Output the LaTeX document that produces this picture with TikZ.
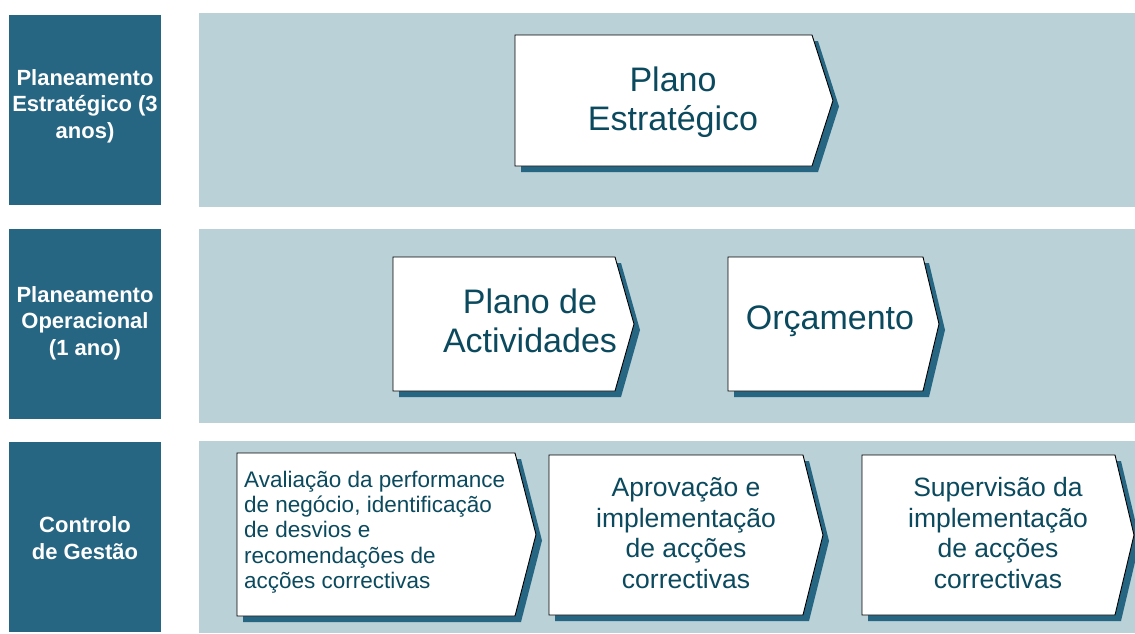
\documentclass[tikz,border=0pt]{standalone}
\usepackage{fontspec}
\setmainfont{Liberation Sans}
\definecolor{darkb}{HTML}{266683}
\definecolor{lightb}{HTML}{B9D1D7}
\definecolor{txt}{HTML}{0B4A5E}
\tikzset{
 panel/.style={fill=lightb, draw=none},
 side/.style={fill=darkb, draw=none},
 sidelabel/.style={text=white, font=\fontsize{22}{26.5}\selectfont\bfseries, align=center, inner sep=0},
 bigtext/.style={text=txt, font=\fontsize{34}{39.5}\selectfont, align=center, inner sep=0},
 midtext/.style={text=txt, font=\fontsize{26.5}{30.5}\selectfont, align=center, inner sep=0},
 smalltext/.style={text=txt, font=\fontsize{22.5}{25.3}\selectfont, align=left, inner sep=0},
 chev/.style={fill=white, draw=black, line width=0.9pt, line join=miter},
 chevshadow/.style={fill=darkb, draw=none},
}
\newcommand\chevbox[5]{%
 \fill[chevshadow, shift={(6,6)}] (#1,#2) -- (#3,#2) -- (#4,{(#2+#5)/2}) -- (#3,#5) -- (#1,#5) -- cycle;
 \draw[chev] (#1,#2) -- (#3,#2) -- (#4,{(#2+#5)/2}) -- (#3,#5) -- (#1,#5) -- cycle;
}
\begin{document}
\begin{tikzpicture}[x=1pt,y=-1pt]
\useasboundingbox (0,0) rectangle (1135,633);
\fill[white] (0,0) rectangle (1135,633);
% panels
\fill[panel] (199,13) rectangle (1135,207);
\fill[panel] (199,229) rectangle (1135,423);
\fill[panel] (199,441) rectangle (1135,633);
\fill[side] (9,15) rectangle (161,205);
\fill[side] (9,229) rectangle (161,419);
\fill[side] (9,442) rectangle (161,632);
\node[sidelabel] (l1) at (85,106) {Planeamento\\Estratégico (3\\anos)};
\node[sidelabel] (l2) at (85,323) {Planeamento\\Operacional\\(1 ano)};
\node[sidelabel] (l3) at (85,538) {Controlo\\de Gestão};
% chevrons
\chevbox{515}{35}{812}{833}{166}
\chevbox{393}{257}{615}{634}{391}
\chevbox{728}{257}{923}{939}{391}
\chevbox{237}{453}{515}{536}{616}
\chevbox{549}{455}{803}{823}{615}
\chevbox{862}{455}{1115}{1134}{615}
% texts
\node[bigtext] (ps) at (673,102) {Plano\\Estratégico};
\node[bigtext] (pa) at (530,321) {Plano de\\Actividades};
\node[bigtext] (orc) at (830,321) {Orçamento};
\node[smalltext, anchor=west] (av) at (244,532) {Avaliação da performance\\de negócio, identificação\\de desvios e\\recomendações de\\acções correctivas};
\node[midtext] (ap) at (686,533) {Aprovação e\\implementação\\de acções\\correctivas};
\node[midtext] (su) at (998,533) {Supervisão da\\implementação\\de acções\\correctivas};
\end{tikzpicture}
\end{document}
